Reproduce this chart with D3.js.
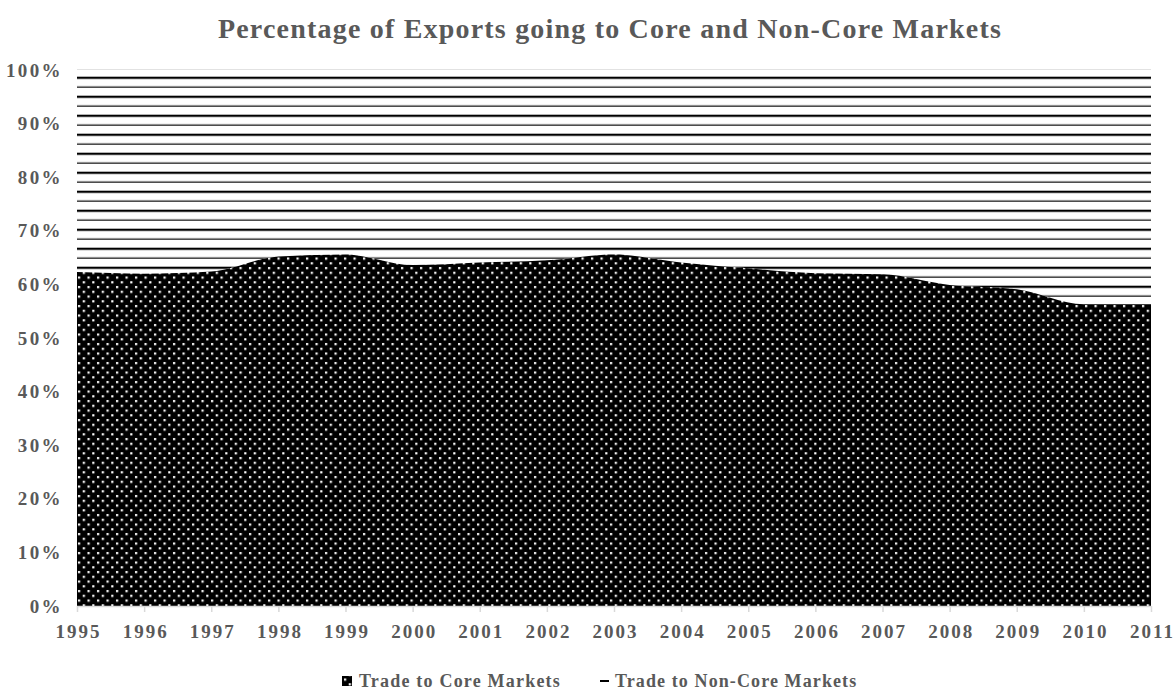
<!DOCTYPE html>
<html><head><meta charset="utf-8">
<script src="https://cdn.jsdelivr.net/npm/d3@7/dist/d3.min.js"></script>
<style>
body{margin:0;background:#fff;}
text{font-family:"Liberation Serif","Times New Roman",serif;font-weight:bold;fill:#595959;}
</style></head><body>
<svg id="c" width="1176" height="697"></svg>
<script>
const years = ["1995","1996","1997","1998","1999","2000","2001","2002","2003","2004","2005","2006","2007","2008","2009","2010","2011"];
const coreShare = [62.3,62.0,62.4,65.2,65.6,63.6,64.1,64.5,65.6,64.1,63.0,62.1,61.9,59.9,59.1,56.3,56.3];
const nonCoreShare = coreShare.map(v => 100 - v);
const yTicks = [0,10,20,30,40,50,60,70,80,90,100];
const seriesNames = ["Trade to Core Markets","Trade to Non-Core Markets"];
const titleText = "Percentage of Exports going to Core and Non-Core Markets";

const svg = d3.select("#c");
const L = 77, R = 1151, T = 70, B = 606;
const x = d3.scalePoint().domain(years).range([L, R]);
const y = d3.scaleLinear().domain([0,100]).range([B, T]);

const defs = svg.append("defs");
// dot pattern
const pd = defs.append("pattern").attr("id","dots").attr("patternUnits","userSpaceOnUse")
  .attr("width",9.5).attr("height",9.5).attr("x",1).attr("y",0);
pd.append("rect").attr("width",9.5).attr("height",9.5).attr("fill","#000");
pd.append("rect").attr("x",1).attr("y",1).attr("width",2.2).attr("height",2.2).attr("fill","#fff");
pd.append("rect").attr("x",5.75).attr("y",5.75).attr("width",2.2).attr("height",2.2).attr("fill","#fff");
// stripe pattern
const ps = defs.append("pattern").attr("id","stripes").attr("patternUnits","userSpaceOnUse")
  .attr("width",20).attr("height",19).attr("x",0).attr("y",0.7);
ps.append("rect").attr("width",20).attr("height",19).attr("fill","#fff");
ps.append("rect").attr("x",0).attr("y",0).attr("width",20).attr("height",2.2).attr("fill","#000");
ps.append("rect").attr("x",0).attr("y",9.8).attr("width",20).attr("height",1.2).attr("fill","#000");

// gridline at 100%
svg.append("line").attr("x1",L).attr("x2",R).attr("y1",y(100)).attr("y2",y(100))
  .attr("stroke","#d9d9d9").attr("stroke-width",1.5);

const data = years.map((yr,i)=>({year:yr, core:coreShare[i], nonCore:nonCoreShare[i]}));
const stack = d3.stack().keys(["core","nonCore"]);
const layers = stack(data);
const area = d3.area().x(d=>x(d.data.year)).y0(d=>y(d[0])).y1(d=>y(d[1])).curve(d3.curveMonotoneX);

svg.append("path").datum(layers[1]).attr("d",area).attr("fill","url(#stripes)");
svg.append("path").datum(layers[0]).attr("d",area).attr("fill","url(#dots)");

// y axis labels
const ya = svg.append("g").attr("transform",`translate(${L-14},0)`)
  .call(d3.axisLeft(y).tickValues(yTicks).tickFormat(d=>d+"%").tickSize(0).tickPadding(0));
ya.select(".domain").remove();
ya.selectAll("text").attr("font-size",19).attr("font-family",null).attr("fill",null).style("letter-spacing","2.4px").attr("dy","0.32em");

// x axis
const xa = svg.append("g").attr("transform",`translate(0,${B})`)
  .call(d3.axisBottom(x).tickSize(6).tickPadding(8));
xa.select(".domain").attr("stroke","#d9d9d9").attr("stroke-width",1.5).attr("d",`M${L},0.5H${R}`);
xa.selectAll(".tick line").attr("stroke","#d9d9d9").attr("stroke-width",1.5);
xa.selectAll("text").attr("font-size",19).attr("font-family",null).attr("fill",null).style("letter-spacing","2px").attr("dy","0.95em").attr("dx","1px");

// title
svg.append("text").attr("x",610).attr("y",38).attr("text-anchor","middle")
  .attr("font-size",28).style("letter-spacing","1.2px").text(titleText);

// legend
const lg = svg.append("g").attr("transform","translate(0,687)");
lg.append("rect").attr("x",342).attr("y",-11).attr("width",10).attr("height",10).attr("fill","url(#dots)");
lg.append("text").attr("x",359).attr("y",0).attr("font-size",18).style("letter-spacing","1.2px").text(seriesNames[0]);
lg.append("rect").attr("x",600).attr("y",-7).attr("width",9).attr("height",2).attr("fill","#000");
lg.append("text").attr("x",615).attr("y",0).attr("font-size",18).style("letter-spacing","1.1px").text(seriesNames[1]);
</script></body></html>
